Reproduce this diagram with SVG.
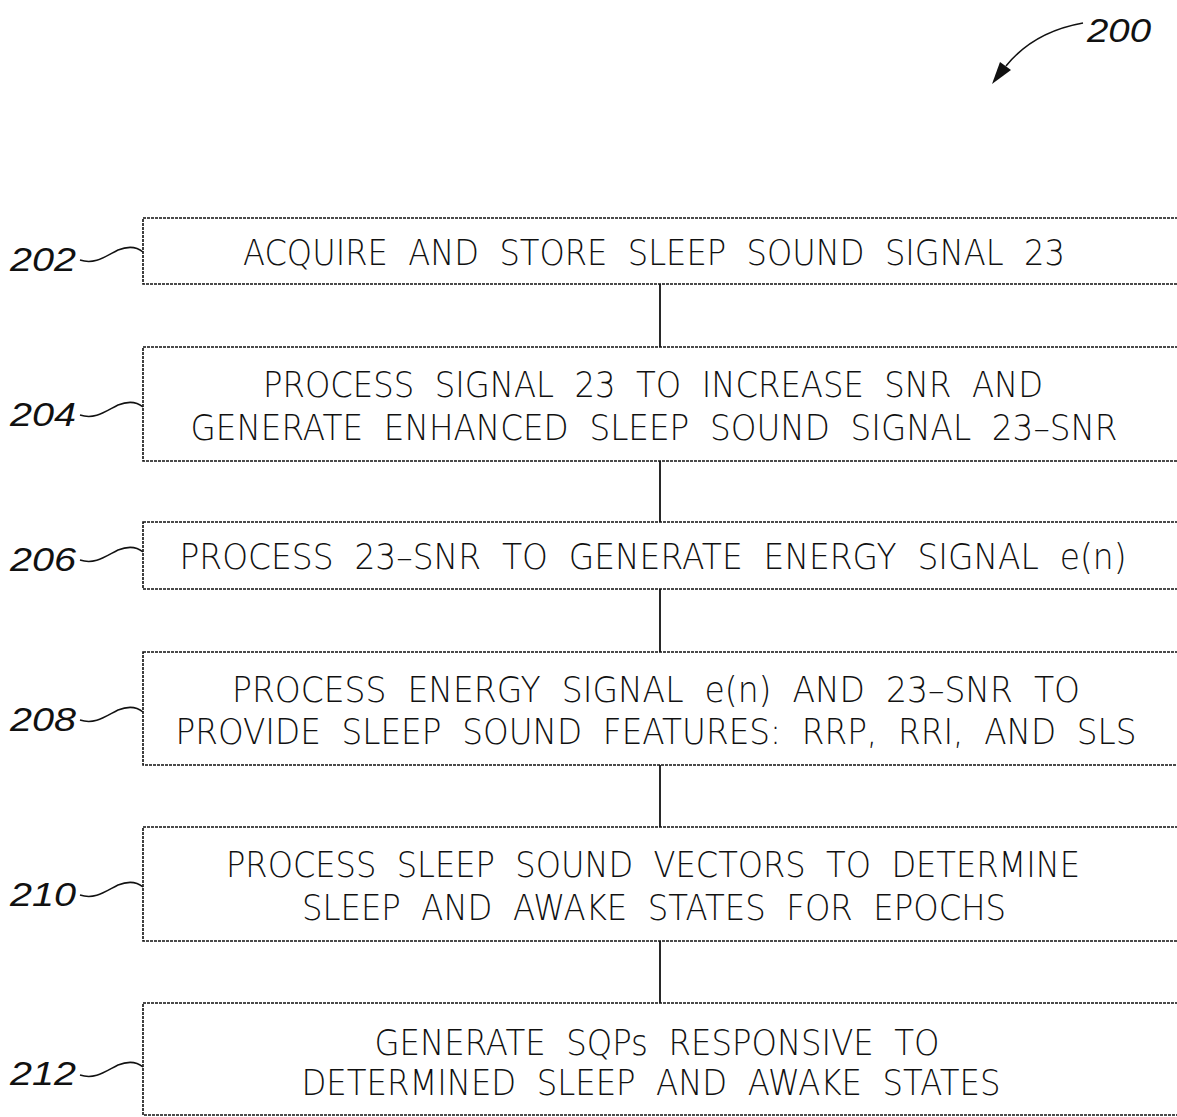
<svg xmlns="http://www.w3.org/2000/svg" width="1177" height="1117" viewBox="0 0 1177 1117">
<style>
.box{fill:#fff;stroke:#111;stroke-width:1.6;stroke-dasharray:3 1}
.t{font-family:"DejaVu Sans","Liberation Sans",Arial,sans-serif;font-size:36px;fill:#111;font-weight:200;text-anchor:middle;white-space:pre}
.lbl{font-family:"Liberation Sans",Arial,sans-serif;font-size:34px;font-style:italic;fill:#111}
.lead{fill:none;stroke:#111;stroke-width:1.5}
.conn{stroke:#111;stroke-width:1.8;fill:none}
</style>
<rect width="1177" height="1117" fill="#fff"/>
<g id="ref200">
<text class="lbl" x="1087" y="42" textLength="64" lengthAdjust="spacingAndGlyphs">200</text>
<path class="lead" d="M1083,23 C1055,28 1027,40 1006,66"/>
<path d="M992,84 L1000,62 L1011,70 Z" fill="#111"/>
</g>
<g id="connectors">
<line class="conn" x1="660" y1="284" x2="660" y2="347"/>
<line class="conn" x1="660" y1="461" x2="660" y2="522"/>
<line class="conn" x1="660" y1="589" x2="660" y2="652"/>
<line class="conn" x1="660" y1="765" x2="660" y2="827"/>
<line class="conn" x1="660" y1="941" x2="660" y2="1003"/>
</g>
<g id="n202">
<rect class="box" x="143" y="218" width="1040" height="66"/>
<text class="t" x="654" y="265" textLength="822" lengthAdjust="spacingAndGlyphs">ACQUIRE  AND  STORE  SLEEP  SOUND  SIGNAL  23</text>
<text class="lbl" x="10" y="271" textLength="66" lengthAdjust="spacingAndGlyphs">202</text>
<path class="lead" d="M80,260 C95,265 106,256 118,250 C128,246 137,247 143,252"/>
</g>
<g id="n204">
<rect class="box" x="143" y="347" width="1040" height="114"/>
<text class="t" x="653" y="397" textLength="780" lengthAdjust="spacingAndGlyphs">PROCESS  SIGNAL  23  TO  INCREASE  SNR  AND</text>
<text class="t" x="654" y="440" textLength="927" lengthAdjust="spacingAndGlyphs">GENERATE  ENHANCED  SLEEP  SOUND  SIGNAL  23–SNR</text>
<text class="lbl" x="10" y="426" textLength="66" lengthAdjust="spacingAndGlyphs">204</text>
<path class="lead" d="M80,415 C95,420 106,411 118,405 C128,401 137,402 143,407"/>
</g>
<g id="n206">
<rect class="box" x="143" y="522" width="1040" height="67"/>
<text class="t" x="653" y="569" textLength="947" lengthAdjust="spacingAndGlyphs">PROCESS  23–SNR  TO  GENERATE  ENERGY  SIGNAL  e(n)</text>
<text class="lbl" x="10" y="571" textLength="66" lengthAdjust="spacingAndGlyphs">206</text>
<path class="lead" d="M80,560 C95,565 106,556 118,550 C128,546 137,547 143,552"/>
</g>
<g id="n208">
<rect class="box" x="143" y="652" width="1040" height="113"/>
<text class="t" x="656" y="702" textLength="848" lengthAdjust="spacingAndGlyphs">PROCESS  ENERGY  SIGNAL  e(n)  AND  23–SNR  TO</text>
<text class="t" x="656" y="744" textLength="961" lengthAdjust="spacingAndGlyphs">PROVIDE  SLEEP  SOUND  FEATURES:  RRP,  RRI,  AND  SLS</text>
<text class="lbl" x="10" y="731" textLength="66" lengthAdjust="spacingAndGlyphs">208</text>
<path class="lead" d="M80,720 C95,725 106,716 118,710 C128,706 137,707 143,712"/>
</g>
<g id="n210">
<rect class="box" x="143" y="827" width="1040" height="114"/>
<text class="t" x="653" y="877" textLength="854" lengthAdjust="spacingAndGlyphs">PROCESS  SLEEP  SOUND  VECTORS  TO  DETERMINE</text>
<text class="t" x="654" y="920" textLength="704" lengthAdjust="spacingAndGlyphs">SLEEP  AND  AWAKE  STATES  FOR  EPOCHS</text>
<text class="lbl" x="10" y="906" textLength="66" lengthAdjust="spacingAndGlyphs">210</text>
<path class="lead" d="M80,895 C95,900 106,891 118,885 C128,881 137,882 143,887"/>
</g>
<g id="n212">
<rect class="box" x="143" y="1003" width="1040" height="112"/>
<text class="t" x="657" y="1055" textLength="565" lengthAdjust="spacingAndGlyphs">GENERATE  SQPs  RESPONSIVE  TO</text>
<text class="t" x="651" y="1095" textLength="699" lengthAdjust="spacingAndGlyphs">DETERMINED  SLEEP  AND  AWAKE  STATES</text>
<text class="lbl" x="10" y="1085" textLength="66" lengthAdjust="spacingAndGlyphs">212</text>
<path class="lead" d="M80,1075 C95,1080 106,1071 118,1065 C128,1061 137,1062 143,1067"/>
</g>
</svg>
